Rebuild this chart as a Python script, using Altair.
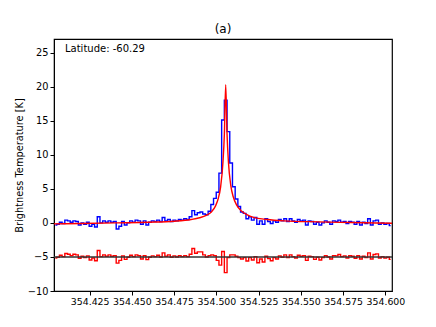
import altair as alt
import pandas as pd

# channel grid (GHz)
chan_start = 354.4047
chan_step = 0.0016

observed = [-0.3, -0.2, 0.1, -0.1, 0.4, 0.3, 0.1, 0.3, 0.2, -0.3,
            0.0, -0.2, 0.1, -0.5, -0.2, -0.6, 0.9, 0.0, 0.3, 0.1,
            0.3, 0.1, 0.2, -0.9, -0.5, 0.2, -0.3, 0.0, 0.3, 0.1,
            0.4, 0.3, -0.2, 0.3, -0.3, 0.1, 0.3, 0.2, 0.4, 0.2,
            0.8, 0.3, 0.5, 0.2, 0.4, 0.3, 0.5, 0.4, 0.6, 0.5,
            0.9, 1.8, 1.2, 1.5, 1.6, 1.3, 1.2, 1.7, 2.7, 3.6,
            4.5, 7.3, 15.1, 18.0, 13.4, 8.8, 5.3, 3.5, 2.4, 1.6,
            1.4, 0.6, 0.9, 0.4, 0.8, -0.2, 0.3, -0.2, 0.6, 0.2,
            -0.1, 0.3, 0.1, 0.5, 0.3, 0.6, 0.2, 0.6, 0.3, 0.1,
            0.5, 0.3, 0.4, -0.3, 0.3, 0.2, -0.2, 0.1, -0.3, 0.0,
            0.3, 0.1, -0.2, 0.3, 0.2, 0.4, 0.1, 0.2, -0.1, 0.2,
            0.1, -0.2, 0.2, -0.3, 0.1, -0.1, 0.6, -0.3, 0.3, 0.4,
            -0.2, 0.0, -0.2, -0.1, -0.4]

residual = [-5.15, -5.05, -4.75, -4.95, -4.5, -4.6, -4.8, -4.6, -4.7, -5.2,
            -4.9, -5.1, -4.85, -5.45, -5.15, -5.55, -4.05, -4.95, -4.7, -4.9,
            -4.7, -4.9, -4.8, -5.9, -5.5, -4.85, -5.35, -5.05, -4.75, -4.95,
            -4.7, -4.8, -5.3, -4.8, -5.4, -5.05, -4.85, -4.95, -4.75, -5.0,
            -4.4, -4.9, -4.7, -5.05, -4.85, -5.0, -4.8, -4.95, -4.8, -4.95,
            -4.6, -3.75, -4.45, -4.25, -4.25, -4.7, -5.0, -4.8, -4.7, -4.8,
            -5.5, -6.2, -4.2, -7.3, -5.1, -4.7, -4.7, -4.9, -5.1, -5.3,
            -5.1, -5.6, -5.1, -5.45, -4.95, -5.85, -5.3, -5.75, -4.9, -5.25,
            -5.55, -5.1, -5.3, -4.85, -5.05, -4.7, -5.1, -4.7, -4.95, -5.15,
            -4.75, -4.9, -4.8, -5.5, -4.9, -4.95, -5.35, -5.05, -5.45, -5.1,
            -4.8, -5.0, -5.3, -4.8, -4.85, -4.65, -4.95, -4.85, -5.15, -4.8,
            -4.9, -5.2, -4.8, -5.3, -4.9, -5.1, -4.4, -5.3, -4.65, -4.55,
            -5.15, -4.95, -5.15, -5.05, -5.35]

model_x = [354.4039, 354.42, 354.44, 354.46, 354.475, 354.485, 354.49, 354.494,
           354.497, 354.4995, 354.501, 354.5025, 354.5039, 354.5047, 354.5055,
           354.5063, 354.5071, 354.5085, 354.510, 354.512, 354.515, 354.518,
           354.522, 354.53, 354.54, 354.56, 354.58, 354.6039]
model_y = [-0.15, -0.1, 0.0, 0.1, 0.25, 0.5, 0.75, 1.1,
           1.6, 2.5, 3.5, 5.3, 9.0, 13.0, 20.3,
           13.0, 9.0, 5.5, 3.8, 2.6, 1.7, 1.2,
           0.8, 0.5, 0.3, 0.15, 0.05, -0.05]

x_ticks = [354.425, 354.45, 354.475, 354.5, 354.525, 354.55, 354.575, 354.6]
y_ticks = [-10, -5, 0, 5, 10, 15, 20, 25]
x_domain = [354.4039, 354.6039]
y_domain = [-10, 27]
baseline = -5
label_text = "Latitude: -60.29"

freq = [round(chan_start + i * chan_step, 5) for i in range(len(observed))]
df_obs = pd.DataFrame({"freq": freq, "obs": observed, "res": residual})
df_model = pd.DataFrame({"freq": model_x, "model": model_y})
df_base = pd.DataFrame({"x1": [x_domain[0]], "x2": [x_domain[1]], "y": [baseline]})

FONT = "DejaVu Sans"

x_enc = alt.X("freq:Q", scale=alt.Scale(domain=x_domain, nice=False, zero=False),
              axis=alt.Axis(values=x_ticks, format=".3f", title=None, grid=False,
                            labelFontSize=9.4, tickSize=4, labelPadding=2,
                            domainColor="black", tickColor="black", labelColor="black"))
y_scale = alt.Scale(domain=y_domain, nice=False, zero=False)
y_axis = alt.Axis(values=y_ticks, title="Brightness Temperature [K]", grid=False,
                  labelFontSize=9.8, titleFontSize=9.8, titleFontWeight="normal",
                  tickSize=4, labelPadding=2, titlePadding=3,
                  domainColor="black", tickColor="black", labelColor="black",
                  titleColor="black")

base_rule = alt.Chart(df_base).mark_rule(color="#333333", strokeWidth=1.6).encode(
    x=alt.X("x1:Q", scale=alt.Scale(domain=x_domain, nice=False, zero=False)),
    x2="x2:Q",
    y=alt.Y("y:Q", scale=y_scale, axis=y_axis),
)

obs_line = alt.Chart(df_obs).mark_line(color="blue", strokeWidth=1.4, interpolate="step", clip=True).encode(
    x=x_enc,
    y=alt.Y("obs:Q", scale=y_scale, axis=y_axis),
)

res_line = alt.Chart(df_obs).mark_line(color="red", strokeWidth=1.4, interpolate="step", clip=True).encode(
    x=x_enc,
    y=alt.Y("res:Q", scale=y_scale, axis=y_axis),
)

model_line = alt.Chart(df_model).mark_line(color="red", strokeWidth=1.4, interpolate="monotone", clip=True).encode(
    x=x_enc,
    y=alt.Y("model:Q", scale=y_scale, axis=y_axis),
)

label = alt.Chart(pd.DataFrame({"t": [label_text]})).mark_text(
    align="left", baseline="middle", fontSize=10, font=FONT, color="black"
).encode(x=alt.value(11), y=alt.value(10), text="t:N")

chart = alt.layer(res_line, obs_line, model_line, base_rule, label).properties(
    width=338, height=252,
    title=alt.Title("(a)", fontSize=12, fontWeight="normal", font=FONT, offset=3, color="black"),
    autosize="none",
    padding={"left": 46, "top": 31, "right": 36, "bottom": 36},
).configure(font=FONT).configure_view(stroke="black", strokeWidth=1.2).configure_axis(
    labelFont=FONT, titleFont=FONT
)

chart.save("out.html", embed_options={"renderer": "svg", "actions": False})
